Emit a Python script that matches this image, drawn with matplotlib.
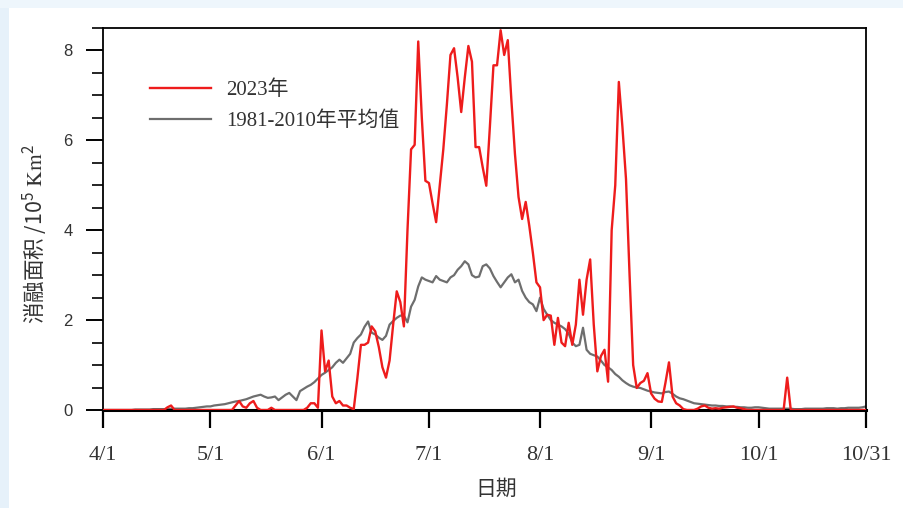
import matplotlib
matplotlib.use("Agg")
import numpy as np
import matplotlib.pyplot as plt
from matplotlib.patches import Rectangle
from matplotlib.ticker import MultipleLocator

# day index 0 = 4/1, 213 = 10/31
tick_days = [0, 30, 61, 91, 122, 153, 183, 213]
tick_labels = ["4/1", "5/1", "6/1", "7/1", "8/1", "9/1", "10/1", "10/31"]

# daily melt area 2023 (10^5 km^2)
melt_2023 = [
    0, 0, 0, 0, 0, 0, 0, 0, 0, 0,
    0, 0, 0, 0, 0, 0, 0, 0, 0.06, 0.1,
    0, 0, 0, 0, 0, 0, 0, 0, 0, 0,
    0, 0, 0, 0, 0, 0, 0, 0.1, 0.2, 0.08,
    0.05, 0.15, 0.2, 0.05, 0, 0, 0, 0.05, 0, 0,
    0, 0, 0, 0, 0, 0, 0, 0.05, 0.15, 0.15,
    0.05, 1.77, 0.86, 1.1, 0.3, 0.15, 0.2, 0.1, 0.1, 0.05,
    0.02, 0.7, 1.45, 1.45, 1.5, 1.86, 1.75, 1.4, 0.95, 0.72,
    1.1, 1.9, 2.64, 2.4, 1.86, 4.0, 5.8, 5.9, 8.2, 6.5,
    5.1, 5.05, 4.6, 4.18, 5.0, 5.8, 6.8, 7.9, 8.05, 7.4,
    6.63, 7.4, 8.1, 7.75, 5.85, 5.85, 5.4, 4.99, 6.3, 7.67,
    7.67, 8.45, 7.9, 8.23, 6.9, 5.7, 4.74, 4.25, 4.63, 4.1,
    3.5, 2.84, 2.73, 2.0, 2.12, 2.1, 1.45, 2.05, 1.5, 1.42,
    1.94, 1.45, 1.9, 2.9, 2.12, 2.9, 3.35, 1.9, 0.86, 1.2,
    1.34, 0.63, 4.0, 5.0, 7.3, 6.3, 5.14, 3.0, 1.0, 0.49,
    0.6, 0.65, 0.82, 0.37, 0.25, 0.19, 0.18, 0.6, 1.06, 0.3,
    0.15, 0.1, 0.02, 0, 0, 0, 0.03, 0.08, 0.1, 0.05,
    0.03, 0.04, 0.03, 0.05, 0.06, 0.07, 0.08, 0.05, 0.04, 0.02,
    0, 0, 0, 0, 0, 0, 0, 0, 0, 0,
    0, 0.72, 0, 0, 0, 0, 0, 0, 0, 0,
    0, 0, 0, 0, 0, 0, 0, 0, 0, 0,
    0, 0, 0, 0,
]

# 1981-2010 daily mean melt area
melt_mean = [
    0, 0, 0, 0, 0, 0, 0, 0, 0, 0.01,
    0.01, 0.01, 0.01, 0.01, 0.02, 0.02, 0.02, 0.02, 0.02, 0.03,
    0.03, 0.03, 0.03, 0.03, 0.04, 0.04, 0.05, 0.06, 0.07, 0.08,
    0.08, 0.1, 0.11, 0.12, 0.13, 0.15, 0.17, 0.19, 0.2, 0.22,
    0.24, 0.27, 0.3, 0.32, 0.34, 0.3, 0.27, 0.28, 0.3, 0.22,
    0.28, 0.34, 0.38, 0.3, 0.22, 0.42, 0.47, 0.52, 0.56, 0.62,
    0.7, 0.78, 0.83, 0.89, 0.95, 1.05, 1.12, 1.05, 1.15, 1.25,
    1.5, 1.6, 1.68, 1.85, 1.97, 1.72, 1.68, 1.61, 1.56, 1.65,
    1.9, 1.98, 2.05, 2.1, 2.1, 1.95, 2.3, 2.45, 2.75, 2.95,
    2.9, 2.87, 2.84, 2.98, 2.9, 2.87, 2.84, 2.95, 3.0, 3.12,
    3.2, 3.31, 3.24, 3.0, 2.95, 2.97, 3.2, 3.24, 3.15, 2.98,
    2.85, 2.73, 2.84, 2.95, 3.02, 2.84, 2.9, 2.65, 2.5, 2.4,
    2.35, 2.2, 2.5, 2.25, 2.12, 2.0, 1.94, 1.9, 1.86, 1.8,
    1.7, 1.5, 1.42, 1.45, 1.83, 1.34, 1.25, 1.22, 1.19, 1.1,
    1.0, 0.95, 0.89, 0.8, 0.74, 0.66, 0.6, 0.55, 0.52, 0.5,
    0.49, 0.46, 0.43, 0.41, 0.39, 0.38, 0.37, 0.4, 0.41, 0.36,
    0.3, 0.26, 0.24, 0.21, 0.18, 0.15, 0.14, 0.13, 0.12, 0.11,
    0.1, 0.1, 0.09, 0.09, 0.08, 0.08, 0.07, 0.07, 0.06, 0.06,
    0.05, 0.05, 0.06, 0.06, 0.05, 0.04, 0.03, 0.03, 0.03, 0.03,
    0.03, 0.03, 0.03, 0.02, 0.02, 0.02, 0.03, 0.03, 0.03, 0.03,
    0.03, 0.03, 0.04, 0.04, 0.04, 0.03, 0.04, 0.04, 0.05, 0.05,
    0.05, 0.05, 0.06, 0.08,
]

CJK = ["Noto Sans CJK SC", "DejaVu Sans"]
SERIF_CJK = ["Liberation Serif", "Noto Sans CJK SC"]


def plot_melt(out_name):
    plt.rcParams["mathtext.default"] = "regular"
    plt.rcParams["mathtext.fontset"] = "stix"
    days = np.arange(len(melt_2023))

    fig = plt.figure(figsize=(9.04, 5.08), dpi=100, facecolor="white")
    # pale blue strips along the left and top edges
    fig.patches.append(Rectangle((0, 0), 9 / 904, 1, transform=fig.transFigure,
                                 facecolor="#e6f1fa", edgecolor="none", zorder=-10))
    fig.patches.append(Rectangle((0, 1 - 8 / 508), 1, 8 / 508, transform=fig.transFigure,
                                 facecolor="#eef6fc", edgecolor="none", zorder=-10))
    ax = fig.add_axes([103 / 904, 98 / 508, 763 / 904, 382 / 508])
    ax.set_facecolor("white")

    ax.plot(days, melt_mean, color="#6e6e6e", lw=1.6, label="1981-2010年平均值", zorder=2)
    ax.plot(days, melt_2023, color="#ee1c1c", lw=1.7, label="2023年", zorder=3)

    ax.set_xlim(0, 213)
    ax.set_ylim(0, 8.5)
    ax.set_xticks(tick_days)
    ax.set_xticklabels(tick_labels, family="Liberation Serif", fontsize=16, color="#333333")
    ax.yaxis.set_major_locator(MultipleLocator(2))
    ax.yaxis.set_minor_locator(MultipleLocator(0.5))
    for lab in ax.get_yticklabels():
        lab.set_family("Liberation Sans")
        lab.set_fontsize(12)
        lab.set_color("#333333")

    ax.tick_params(axis="x", direction="out", length=13, width=1.6, pad=13)
    ax.tick_params(axis="y", which="major", direction="out", length=12, width=1.4, pad=10)
    ax.tick_params(axis="y", which="minor", direction="out", length=8, width=1.2)
    for sp in ax.spines.values():
        sp.set_linewidth(1.3)
    ax.spines["bottom"].set_linewidth(2.2)

    ax.set_xlabel("日期", family=CJK, fontsize=15, color="#333333")
    ax.xaxis.set_label_coords(0.515, -0.178)
    ax.set_ylabel("消融面积 $/10^5\\ \\mathrm{Km}^2$", family="Noto Sans CJK SC",
                  fontsize=15.5, color="#333333")
    ax.yaxis.set_label_coords(-0.07, 0.46)

    handles, labels = ax.get_legend_handles_labels()
    leg = ax.legend(handles[::-1], labels[::-1], loc="upper left",
                    bbox_to_anchor=(0.062, 0.862), frameon=False,
                    handlelength=2.9, handletextpad=0.72, labelspacing=0.52,
                    borderaxespad=0, borderpad=0, prop={"family": SERIF_CJK, "size": 15})
    for t in leg.get_texts():
        t.set_color("#333333")

    fig.savefig(out_name, dpi=100, facecolor=fig.get_facecolor())


def main():
    plot_melt("out.png")


if __name__ == "__main__":
    main()
